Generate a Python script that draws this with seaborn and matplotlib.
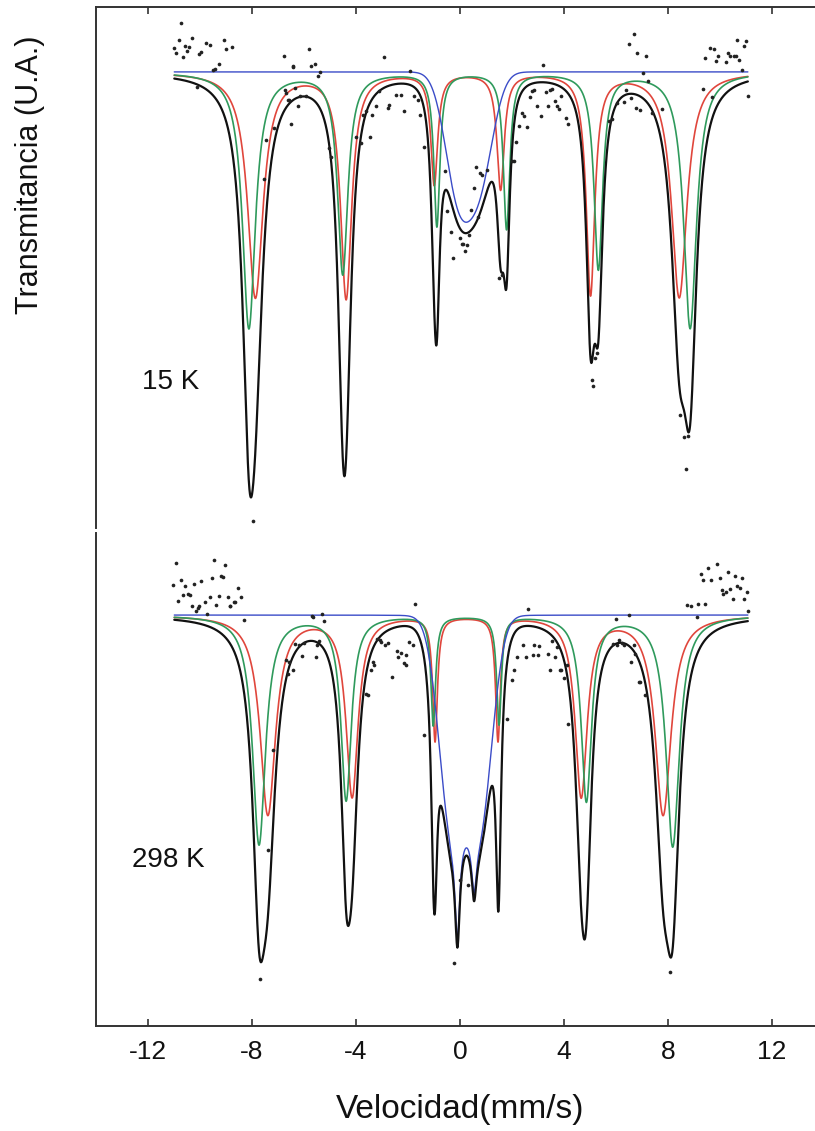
import numpy as np
import pandas as pd
import matplotlib
matplotlib.use("Agg")
import matplotlib.pyplot as plt
import seaborn as sns

# ---------------- data ----------------
# Fitted Mossbauer sub-spectra: line positions (mm/s), depths (% absorption), half widths (mm/s)
# 15 K
red_pos_15 = [-7.87, -4.38, -0.99, 1.56, 5.02, 8.43]
red_depth_15 = [4.50, 4.50, 2.22, 2.32, 4.42, 4.50]
red_hw_15 = [0.36, 0.26, 0.16, 0.17, 0.20, 0.36]
green_pos_15 = [-8.12, -4.51, -0.89, 1.79, 5.32, 8.85]
green_depth_15 = [5.12, 4.02, 3.06, 3.12, 3.92, 5.12]
green_hw_15 = [0.30, 0.24, 0.14, 0.15, 0.20, 0.30]
blue_pos_15 = [-0.08, 0.78]
blue_depth_15 = [2.32, 2.00]
blue_sig_15 = [0.50, 0.50]

# 298 K
red_pos_298 = [-7.39, -4.15, -0.96, 1.46, 4.66, 7.81]
red_depth_298 = [3.98, 3.60, 2.48, 2.48, 3.60, 3.98]
red_hw_298 = [0.36, 0.28, 0.11, 0.11, 0.28, 0.37]
green_pos_298 = [-7.73, -4.38, -1.03, 1.50, 4.86, 8.18]
green_depth_298 = [4.58, 3.68, 2.18, 2.16, 3.70, 4.62]
green_hw_298 = [0.30, 0.24, 0.11, 0.11, 0.24, 0.31]
blue_pos_298 = [-0.33, 0.75]
blue_depth_298 = [4.10, 4.10]
blue_sig_298 = [0.48, 0.48]
blue_narrow_pos_298 = [-0.10, 0.54]
blue_narrow_depth_298 = [1.94, 0.98]
blue_narrow_hw_298 = [0.11, 0.11]

v_min, v_max = -10.99, 11.07

# Measured points (velocity mm/s, transmission %)
pts_v_15 = [-11.00, -10.91, -10.82, -10.74, -10.65, -10.59, -10.49, -10.42, -10.31, -10.13,
            -10.05, -9.98, -9.78, -9.63, -9.50, -9.44, -9.27, -9.09, -8.99, -8.76,
            -7.96, -7.54, -7.45, -7.14, -6.77, -6.75, -6.69, -6.62, -6.56, -6.49,
            -6.43, -6.42, -6.34, -6.24, -6.14, -5.93, -5.79, -5.73, -5.57, -5.47,
            -5.37, -5.02, -4.96, -4.00, -3.81, -3.72, -3.62, -3.46, -3.39, -3.24,
            -3.11, -2.94, -2.78, -2.72, -2.47, -2.27, -2.17, -1.92, -1.76, -1.63,
            -1.53, -1.38, -0.59, -0.51, -0.35, -0.27, -0.02, 0.08, 0.13, 0.18,
            0.26, 0.36, 0.44, 0.54, 0.62, 0.71, 0.77, 0.86, 1.05, 1.50,
            1.63, 2.00, 2.07, 2.14, 2.27, 2.37, 2.46, 2.59, 2.69, 2.78,
            2.84, 2.95, 3.13, 3.20, 3.29, 3.39, 3.46, 3.55, 3.64, 3.74,
            3.81, 3.90, 4.06, 4.16, 5.06, 5.12, 5.21, 5.27, 5.72, 5.85,
            6.04, 6.31, 6.40, 6.49, 6.59, 6.68, 6.76, 6.81, 6.94, 7.04,
            7.17, 7.23, 7.38, 7.76, 8.47, 8.60, 8.77, 8.69, 9.36, 9.43,
            9.60, 9.70, 9.78, 9.85, 9.94, 10.24, 10.30, 10.39, 10.52, 10.62,
            10.65, 10.73, 10.84, 10.92, 10.99, 11.09]
pts_t_15 = [100.47, 100.37, 100.64, 100.97, 100.29, 100.51, 100.41, 100.49, 100.67, 99.69,
            100.36, 100.39, 100.57, 100.54, 100.03, 100.05, 100.16, 100.63, 100.45, 100.49,
            91.02, 97.85, 98.64, 98.87, 100.32, 99.64, 99.57, 99.44, 99.43, 98.95,
            100.11, 100.09, 99.67, 99.31, 99.52, 99.51, 100.45, 100.11, 100.16, 99.91,
            99.99, 98.47, 98.29, 98.69, 98.57, 99.13, 99.21, 98.69, 99.14, 99.31,
            99.61, 100.29, 99.27, 99.34, 99.54, 99.54, 99.21, 100.02, 99.51, 99.44,
            99.14, 98.49, 98.02, 97.21, 96.79, 96.27, 96.67, 96.55, 96.56, 96.41,
            96.53, 96.74, 97.24, 97.67, 98.09, 97.09, 97.97, 97.94, 98.04, 95.87,
            95.94, 98.21, 98.21, 98.59, 98.92, 99.17, 99.12, 98.89, 99.49, 99.61,
            99.64, 99.32, 99.12, 100.14, 99.59, 99.32, 99.63, 99.65, 99.41, 99.31,
            99.26, 99.52, 99.07, 98.96, 93.84, 93.71, 94.27, 94.37, 99.02, 99.05,
            99.37, 99.39, 99.64, 100.55, 99.47, 100.76, 99.28, 100.37, 99.24, 99.97,
            100.31, 99.81, 99.18, 99.26, 93.14, 92.69, 92.72, 92.05, 99.65, 100.27,
            100.47, 99.49, 100.45, 100.22, 100.32, 100.19, 100.37, 100.32, 100.31, 100.32,
            100.64, 100.24, 100.04, 100.52, 100.61, 99.51]

pts_v_298 = [-11.02, -10.93, -10.84, -10.75, -10.65, -10.59, -10.46, -10.40, -10.31, -10.23,
             -10.14, -10.07, -10.04, -9.97, -9.79, -9.72, -9.63, -9.54, -9.46, -9.37,
             -9.28, -9.21, -9.12, -9.05, -8.92, -8.86, -8.84, -8.69, -8.67, -8.52,
             -8.41, -8.31, -7.71, -7.37, -7.20, -6.69, -6.62, -6.56, -6.43, -6.34,
             -6.21, -6.07, -6.01, -5.70, -5.66, -5.53, -5.50, -5.41, -5.29, -5.22,
             -3.62, -3.55, -3.42, -3.36, -3.32, -3.19, -3.07, -3.04, -2.89, -2.78,
             -2.62, -2.43, -2.38, -2.27, -2.17, -2.08, -2.06, -1.96, -1.82, -1.74,
             -1.38, -0.23, -0.01, 0.32, 1.82, 2.01, 2.07, 2.20, 2.43, 2.52,
             2.62, 2.82, 2.84, 3.00, 3.03, 3.38, 3.46, 3.52, 3.64, 3.74,
             3.84, 3.90, 3.99, 4.10, 4.16, 5.89, 5.98, 6.04, 6.10, 6.23,
             6.30, 6.49, 6.58, 6.68, 6.74, 6.87, 6.94, 7.10, 8.06, 8.73,
             8.89, 9.11, 9.17, 9.27, 9.36, 9.43, 9.53, 9.66, 9.88, 9.98,
             10.07, 10.13, 10.22, 10.32, 10.39, 10.48, 10.58, 10.67, 10.75, 10.84,
             10.93, 11.03, 11.07]
pts_t_298 = [100.60, 101.05, 100.29, 100.70, 100.40, 100.59, 100.43, 100.41, 100.18, 100.63,
             100.09, 100.15, 100.18, 100.69, 100.27, 100.03, 100.37, 100.75, 101.10, 100.21,
             100.38, 100.79, 100.77, 101.01, 100.37, 100.18, 100.19, 100.27, 100.27, 100.55,
             100.37, 99.90, 92.73, 95.31, 97.30, 99.11, 98.83, 99.07, 98.91, 99.43,
             99.40, 99.18, 99.45, 99.98, 99.97, 99.17, 99.40, 99.49, 100.02, 99.89,
             98.43, 98.40, 98.90, 99.07, 99.00, 99.53, 99.50, 99.47, 99.41, 99.45,
             98.77, 99.29, 99.17, 99.25, 99.05, 99.20, 99.00, 99.47, 99.40, 100.22,
             97.60, 93.05, 94.70, 94.60, 97.93, 98.71, 98.90, 99.17, 99.40, 99.17,
             100.12, 99.21, 99.40, 99.21, 99.38, 99.23, 98.90, 99.49, 99.17, 99.37,
             98.91, 98.90, 98.75, 99.00, 97.83, 99.43, 99.93, 99.40, 99.50, 99.45,
             99.41, 100.01, 99.07, 99.40, 99.23, 98.67, 98.67, 98.41, 92.87, 100.20,
             100.19, 99.97, 100.23, 100.83, 100.71, 100.23, 100.95, 100.70, 101.02, 100.75,
             100.50, 100.43, 100.47, 100.87, 100.53, 100.33, 100.78, 100.58, 100.55, 100.75,
             100.33, 100.47, 100.09]

x_ticks = [-12, -8, -4, 0, 4, 8, 12]
panel_labels = ["15 K", "298 K"]
x_label = "Velocidad(mm/s)"
y_label = "Transmitancia (U.A.)"

# ---------------- line shapes ----------------
def lorentz(v, pos, depth, hw):
    out = np.zeros_like(v)
    for p, d, h in zip(pos, depth, hw):
        out += d / (1.0 + ((v - p) / h) ** 2)
    return out


def gauss(v, pos, depth, sig):
    out = np.zeros_like(v)
    for p, d, s in zip(pos, depth, sig):
        out += d * np.exp(-((v - p) ** 2) / (2 * s ** 2))
    return out


v = np.linspace(v_min, v_max, 4000)

abs_r15 = lorentz(v, red_pos_15, red_depth_15, red_hw_15)
abs_g15 = lorentz(v, green_pos_15, green_depth_15, green_hw_15)
abs_b15 = gauss(v, blue_pos_15, blue_depth_15, blue_sig_15)
abs_r298 = lorentz(v, red_pos_298, red_depth_298, red_hw_298)
abs_g298 = lorentz(v, green_pos_298, green_depth_298, green_hw_298)
abs_b298 = gauss(v, blue_pos_298, blue_depth_298, blue_sig_298) + \
    lorentz(v, blue_narrow_pos_298, blue_narrow_depth_298, blue_narrow_hw_298)

panels = [
    dict(r=abs_r15, g=abs_g15, b=abs_b15, pv=pts_v_15, pt=pts_t_15, ylim=(90.88, 101.30),
         label=panel_labels[0], lab_xy=(-12.25, 93.8)),
    dict(r=abs_r298, g=abs_g298, b=abs_b298, pv=pts_v_298, pt=pts_t_298, ylim=(91.78, 101.64),
         label=panel_labels[1], lab_xy=(-12.62, 95.1)),
]

# ---------------- figure ----------------
sns.set_theme(style="white")
plt.rcParams["font.family"] = ["Liberation Sans", "DejaVu Sans"]

fig = plt.figure(figsize=(8.15, 11.31), dpi=100)
ax1 = fig.add_axes([0.1178, 0.5332, 0.8933, 0.4607])
ax2 = fig.add_axes([0.1178, 0.0928, 0.8933, 0.4359])

RED = "#e0463c"
GREEN = "#2f9a5c"
BLUE = "#3b4cc8"
BLACK = "#111111"

for ax, P in zip([ax1, ax2], panels):
    total = 100 - (P["r"] + P["g"] + P["b"])
    sns.lineplot(x=v, y=100 - P["r"], ax=ax, color=RED, lw=1.2, estimator=None, sort=False, zorder=3)
    sns.lineplot(x=v, y=100 - P["g"], ax=ax, color=GREEN, lw=1.2, estimator=None, sort=False, zorder=3)
    sns.lineplot(x=v, y=100 - P["b"], ax=ax, color=BLUE, lw=1.0, estimator=None, sort=False, zorder=4)
    sns.lineplot(x=v, y=total, ax=ax, color=BLACK, lw=1.6, estimator=None, sort=False, zorder=5)
    pts = pd.DataFrame({"v": P["pv"], "t": P["pt"]})
    sns.scatterplot(data=pts, x="v", y="t", ax=ax, color="#222222", s=7, linewidth=0, zorder=6)
    ax.set_xlim(-14, 14)
    ax.set_ylim(*P["ylim"])
    ax.set_yticks([])
    ax.set_xticks(x_ticks)
    ax.set_ylabel("")
    ax.set_xlabel("")
    ax.text(P["lab_xy"][0], P["lab_xy"][1], P["label"], fontsize=20, color="#111111",
            ha="left", va="center")
    for s in ax.spines.values():
        s.set_color("#333333")
        s.set_linewidth(1.4)
    ax.spines["right"].set_visible(False)

# top panel: top + left spines, ticks on top inward
ax1.spines["bottom"].set_visible(False)
ax1.tick_params(axis="x", which="both", bottom=False, top=True, labelbottom=False, labeltop=False,
                direction="in", length=5, width=1.2, color="#333333")
# bottom panel: bottom + left spines
ax2.spines["top"].set_visible(False)
ax2.tick_params(axis="x", which="both", bottom=True, top=False, labelbottom=True,
                direction="in", length=5, width=1.2, color="#333333", labelsize=19, pad=10,
                labelcolor="#111111")
ax2.set_xticklabels([str(t) for t in x_ticks])
ax2.set_xlabel(x_label, fontsize=24, labelpad=22, color="#111111")

fig.text(30 / 815, 1 - 175 / 1131, y_label, rotation=90, fontsize=22, ha="center", va="center",
         color="#111111")

fig.savefig("out.png", dpi=100)
